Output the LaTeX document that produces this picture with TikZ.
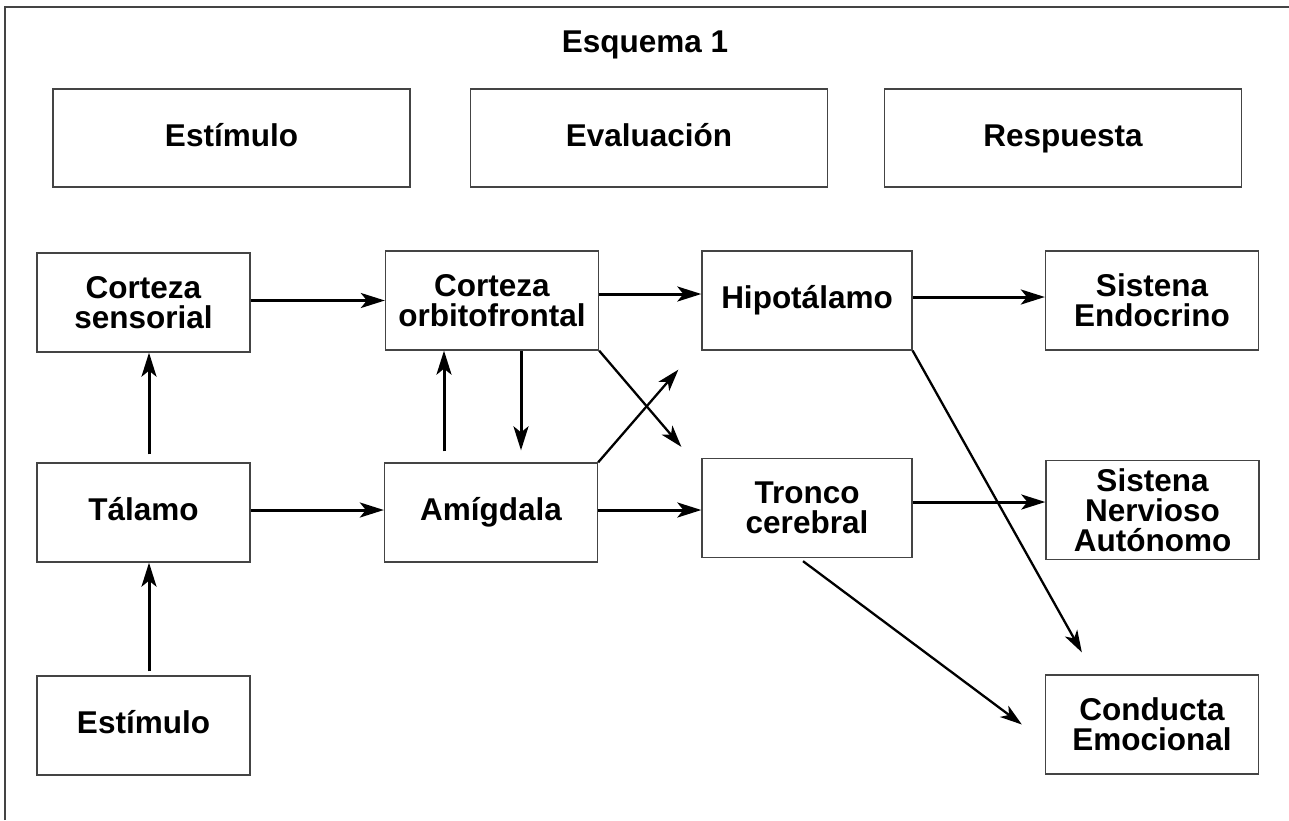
\documentclass[tikz,border=0pt]{standalone}
\usepackage{fontspec}
\setmainfont{Liberation Sans}
\usetikzlibrary{arrows.meta}
\definecolor{borde}{RGB}{68,68,68}

\begin{document}
\begin{tikzpicture}[x=1pt, y=-1pt,
    every node/.style={font=\fontsize{31.5}{30}\selectfont\bfseries, align=center},
    caja/.style={draw=borde, line width=1.3pt, minimum width=213pt, minimum height=99pt, inner sep=2pt},
    linea/.style={text height=23pt, text depth=7pt},
    encabezado/.style={caja, linea, minimum width=357pt, minimum height=98pt},
    flecha/.style={-{Stealth[length=24pt,width=15pt,inset=6pt]}, line width=3pt},
    diagonal/.style={-{Stealth[length=22pt,width=14pt,inset=6pt]}, line width=2.3pt}]
\useasboundingbox (0,0) rectangle (1289,820);
% Marco
\draw[borde, line width=1.3pt] (5,820) -- (5,7) -- (1289,7);
% Titulo y encabezados
\node (titulo) at (645,45) {Esquema 1};
\foreach \n/\x/\t in {EstH/231.5/Estímulo, EvalH/649/Evaluación, RespH/1063/Respuesta}
    \node[encabezado] (\n) at (\x,138) {\t};
% Fila superior
\node[caja] (CS) at (143.5,302.5) {Corteza\\sensorial};
\node[caja] (CO) at (492,300.5) {Corteza\\orbitofrontal};
\node[caja, linea, minimum width=210pt] (Hip) at (807,300.5) {Hipotálamo};
\node[caja] (SE) at (1152,300.5) {Sistena\\Endocrino};
% Fila central
\node[caja, linea] (Tal) at (143.5,512.5) {Tálamo};
\node[caja, linea] (Amig) at (491,512.5) {Amígdala};
\node[caja, minimum width=210pt] (Tronco) at (807,508) {Tronco\\cerebral};
\node[caja] (SNA) at (1152.5,510) {Sistena\\Nervioso\\Autónomo};
% Fila inferior
\node[caja, linea] (EstB) at (143.5,725.5) {Estímulo};
\node[caja] (CE) at (1152,724.5) {Conducta\\Emocional};
% Conexiones
\draw[flecha] (CS.east |- CO.west) -- (CO.west);
\draw[flecha] ([yshift=6.5]CO.east) -- ([yshift=6.5]Hip.west);
\draw[flecha] ([yshift=3.5]Hip.east) -- ([yshift=3.5]SE.west);
\draw[flecha] ([xshift=5.5,yshift=8]Tal.north) -- ([xshift=5.5]CS.south);
\draw[flecha] ([xshift=5.5,yshift=4]EstB.north) -- ([xshift=5.5]Tal.south);
\draw[flecha] ([yshift=2.5]Tal.east) -- ([yshift=2.5]Amig.west);
\draw[flecha] ([yshift=2.5]Amig.east) -- ([yshift=-2]Tronco.west);
\draw[flecha] ([yshift=6]Tronco.east) -- ([yshift=8]SNA.west);
\draw[flecha] ([xshift=-47,yshift=11]Amig.north) -- ([xshift=-48]CO.south);
\draw[flecha] ([xshift=29]CO.south) -- ([xshift=30,yshift=12]Amig.north);
\draw[diagonal] (CO.south east) -- ([xshift=-20,yshift=11]Tronco.north west);
\draw[diagonal] (Amig.north east) -- ([xshift=-23,yshift=-19]Hip.south west);
\draw[diagonal] (Hip.south east) -- ([xshift=37,yshift=22]CE.north west);
\draw[diagonal] ([xshift=-4,yshift=-3]Tronco.south) -- ([xshift=-23]CE.west);
\end{tikzpicture}
\end{document}
